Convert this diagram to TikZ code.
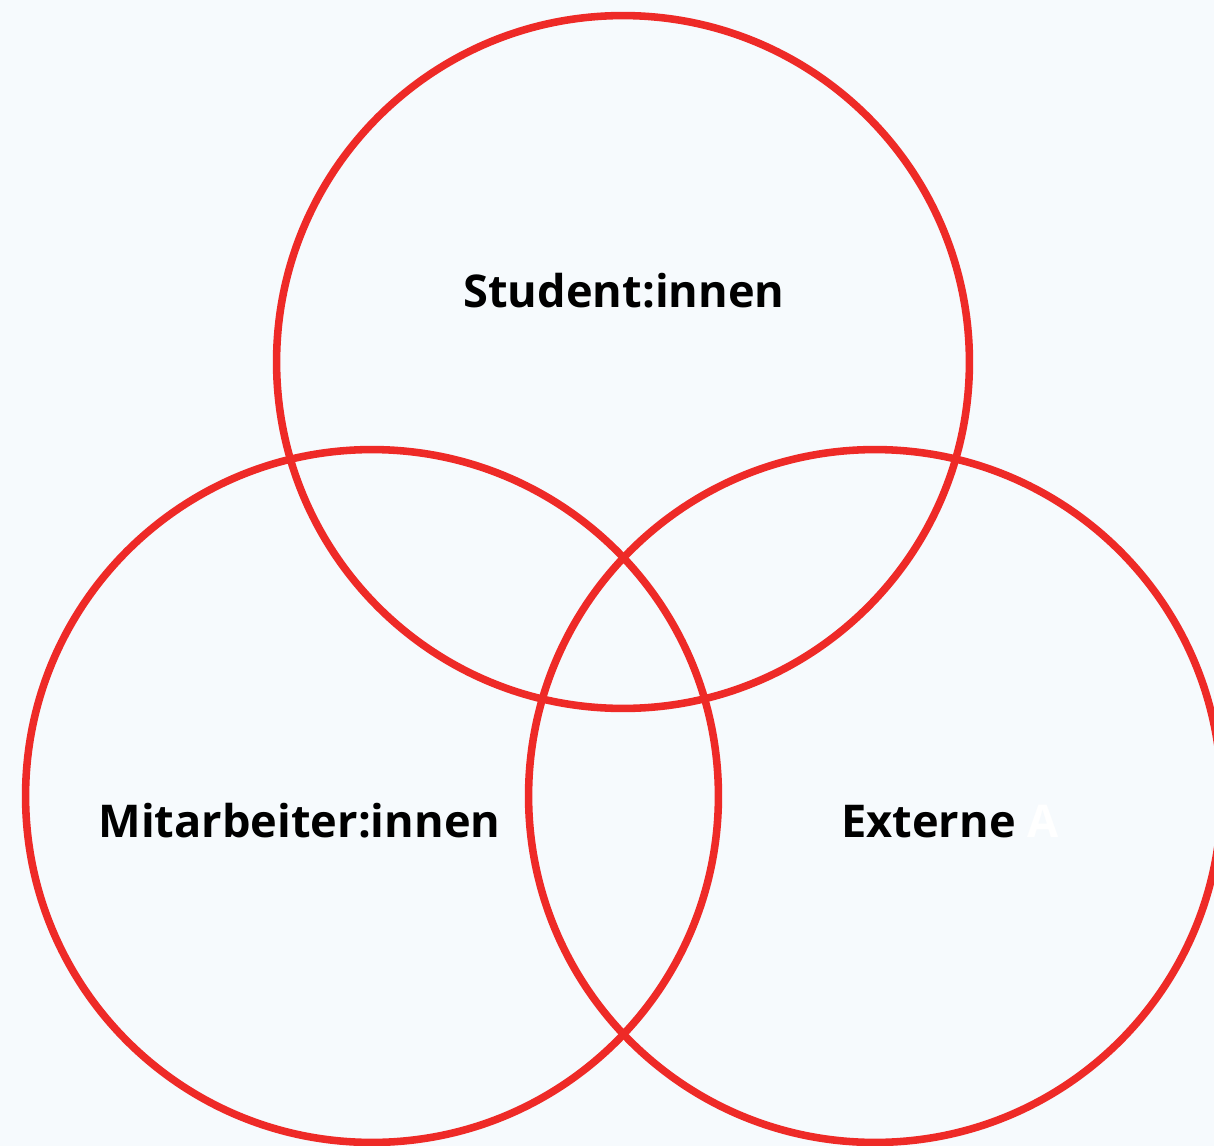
\documentclass[tikz,border=0pt]{standalone}
\usepackage{fontspec}
\setmainfont{Open Sans}
\usepackage{xcolor}
\usepackage{tikz}
\definecolor{vennred}{HTML}{EE2A27}
\definecolor{vennbg}{HTML}{F6FAFD}

\begin{document}
\begin{tikzpicture}[x=0.02cm,y=-0.02cm]
    \tikzstyle{ring}=[draw=vennred, line width=4.3pt, circle, inner sep=0pt, minimum size=13.86cm]
    \tikzstyle{group}=[anchor=base, inner sep=0pt, font=\fontsize{25.7}{30}\selectfont\bfseries]
    \fill[vennbg] (0,0) rectangle (1214,1146);
    \useasboundingbox (0,0) rectangle (1214,1146);
    \clip (0,0) rectangle (1214,1146);
    \node[ring] (stud) at (623, 362){};
    \node[ring] (mit) at (372, 796){};
    \node[ring] (ext) at (875, 796){};
    \node[group] (studtxt) at (624, 307){Student:innen};
    \node[group] (mittxt) at (299.5, 837){Mitarbeiter:innen};
    \node[group] (exttxt) at (950, 837){Externe \textcolor{white}{A}};
\end{tikzpicture}
\end{document}
